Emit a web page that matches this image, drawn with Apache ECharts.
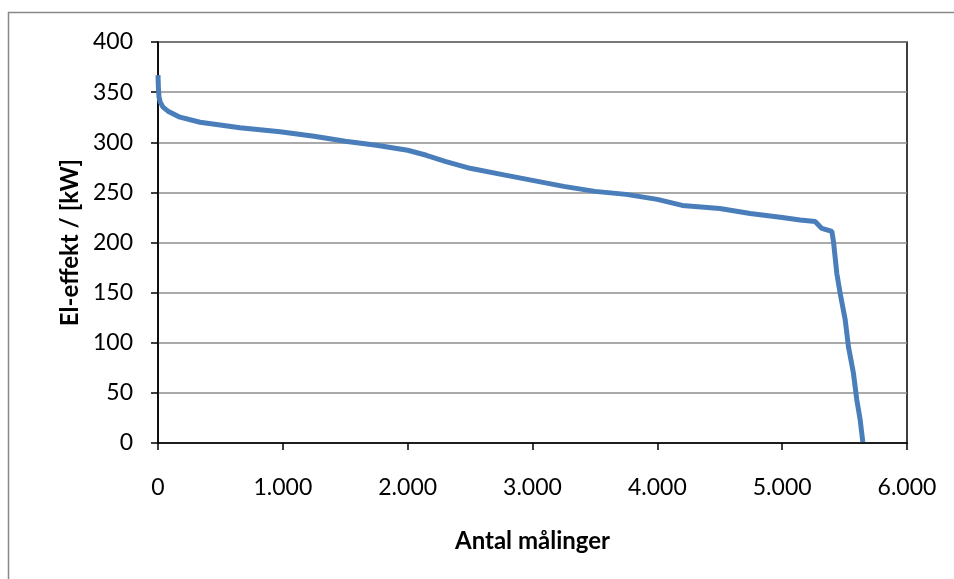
<!DOCTYPE html>
<html>
<head>
<meta charset="utf-8">
<script src="https://cdn.jsdelivr.net/npm/echarts@6/dist/echarts.min.js"></script>
<style>
  html, body { margin: 0; padding: 0; background: #fff; }
  #chart { width: 954px; height: 579px; }
</style>
</head>
<body>
<div id="chart"></div>
<script>
// antal målinger (sorted duration curve)
var counts = [0, 3, 8, 18, 40, 80, 176, 337, 657, 978, 1250, 1500, 1750, 2000, 2150, 2300, 2500, 2750, 3000, 3250, 3500, 3750, 4000, 4200, 4500, 4744, 5000, 5144, 5264, 5318, 5398, 5411, 5438, 5465, 5505, 5531, 5571, 5598, 5625, 5646];
// el-effekt in kW
var power = [367, 355, 345, 340, 335, 331, 325, 320, 314.5, 310.5, 306, 301, 297, 292, 287, 281, 274, 268, 262, 256, 251, 248, 243, 237, 234, 229, 225, 222.5, 221, 214, 211, 201, 169, 149, 123, 96, 69.5, 43, 23, 1];

var points = counts.map(function (c, i) { return [c, power[i]]; });

var chart = echarts.init(document.getElementById('chart'));
var fontFam = 'Lato, "Open Sans", sans-serif';

chart.setOption({
  backgroundColor: '#fff',
  animation: false,
  graphic: [{
    type: 'rect',
    shape: { x: 8.5, y: 12.5, width: 1000, height: 700 },
    style: { fill: 'none', stroke: '#888', lineWidth: 1.5 },
    silent: true
  }],
  grid: {
    left: 158, right: 47, top: 42, bottom: 136,
    show: true,
    borderColor: '#000',
    borderWidth: 1.5
  },
  xAxis: {
    type: 'value',
    min: 0, max: 6000, interval: 1000,
    name: 'Antal målinger',
    nameLocation: 'middle',
    nameGap: 86,
    nameTextStyle: { fontFamily: fontFam, fontSize: 24, fontWeight: 'bold', color: '#000' },
    axisLine: { show: true, lineStyle: { color: '#000', width: 1.5 } },
    axisTick: { show: true, inside: false, length: 7, lineStyle: { color: '#000', width: 1.5 } },
    axisLabel: {
      margin: 33,
      fontFamily: fontFam, fontSize: 23, color: '#000',
      formatter: function (v) { return v === 0 ? '0' : (v / 1000) + '.000'; }
    },
    splitLine: { show: false }
  },
  yAxis: {
    type: 'value',
    min: 0, max: 400, interval: 50,
    name: 'El-effekt / [kW]',
    nameLocation: 'middle',
    nameGap: 74,
    nameTextStyle: { fontFamily: fontFam, fontSize: 24, fontWeight: 'bold', color: '#000' },
    axisLine: { show: true, lineStyle: { color: '#000', width: 1.5 } },
    axisTick: { show: true, inside: false, length: 7, lineStyle: { color: '#000', width: 1.5 } },
    axisLabel: { margin: 25, fontFamily: fontFam, fontSize: 23, color: '#000' },
    splitLine: { show: true, lineStyle: { color: '#8c8c8c', width: 1.5 } }
  },
  series: [{
    type: 'line',
    data: points,
    showSymbol: false,
    smooth: false,
    lineStyle: { color: '#4a7ebb', width: 5 },
    z: 5
  }]
});
</script>
</body>
</html>
